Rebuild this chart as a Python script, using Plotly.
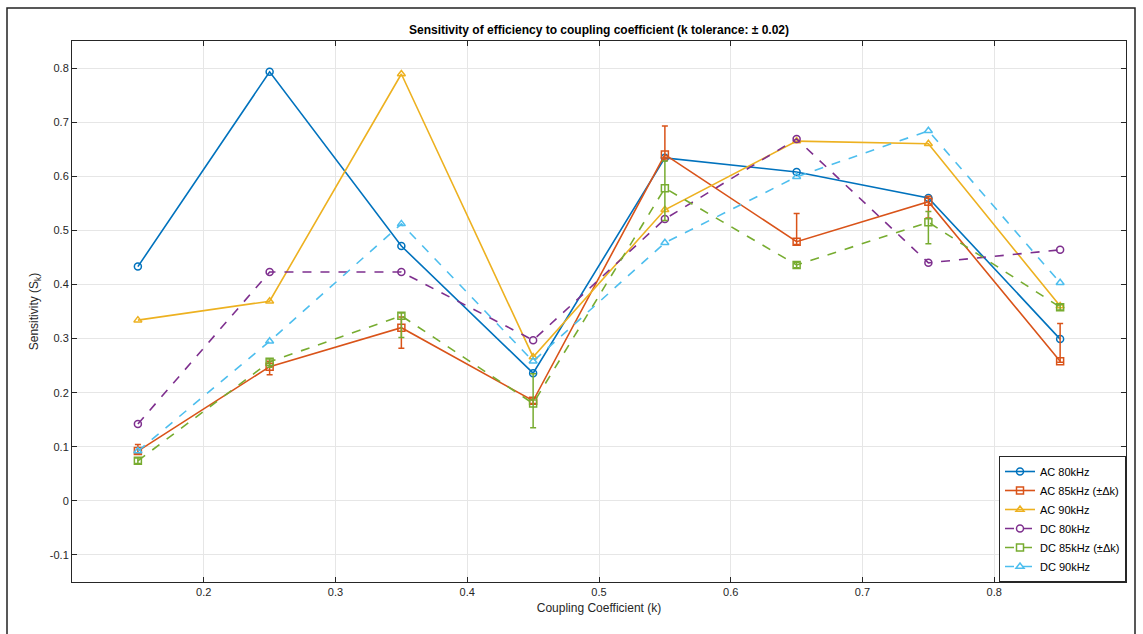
import plotly.graph_objects as go

k = [0.15, 0.25, 0.35, 0.45, 0.55, 0.65, 0.75, 0.85]

ac80 = [0.433, 0.793, 0.471, 0.236, 0.634, 0.608, 0.560, 0.299]
ac85 = [0.092, 0.248, 0.320, 0.185, 0.640, 0.479, 0.553, 0.258]
ac85_up = [0.012, 0.010, 0.020, 0.005, 0.053, 0.052, 0.010, 0.070]
ac85_dn = [0.005, 0.015, 0.038, 0.005, 0.010, 0.005, 0.030, 0.002]
ac90 = [0.334, 0.369, 0.789, 0.266, 0.538, 0.665, 0.660, 0.360]
dc80 = [0.142, 0.423, 0.423, 0.297, 0.521, 0.669, 0.440, 0.464]
dc85 = [0.074, 0.257, 0.342, 0.180, 0.578, 0.436, 0.515, 0.358]
dc85_up = [0.005, 0.005, 0.005, 0.055, 0.050, 0.005, 0.020, 0.005]
dc85_dn = [0.005, 0.010, 0.040, 0.045, 0.060, 0.005, 0.040, 0.005]
dc90 = [0.092, 0.295, 0.512, 0.258, 0.477, 0.599, 0.684, 0.403]

x_ticks = [0.2, 0.3, 0.4, 0.5, 0.6, 0.7, 0.8]
y_ticks = [-0.1, 0, 0.1, 0.2, 0.3, 0.4, 0.5, 0.6, 0.7, 0.8]

C_BLUE = "#0072BD"
C_ORANGE = "#D95319"
C_YELLOW = "#EDB120"
C_PURPLE = "#7E2F8E"
C_GREEN = "#77AC30"
C_CYAN = "#4DBEEE"

FONT = "Liberation Sans, Arial, sans-serif"

fig = go.Figure()

def add(name, y, color, symbol, dash, err=None):
    kw = {}
    if err is not None:
        kw["error_y"] = dict(type="data", symmetric=False, array=err[0], arrayminus=err[1],
                             color=color, thickness=1.5, width=3)
    fig.add_trace(go.Scatter(
        x=k, y=y, name=name, mode="lines+markers",
        line=dict(color=color, width=1.6, dash=dash),
        marker=dict(symbol=symbol, size=7, color=color, line=dict(color=color, width=1.5)),
        **kw))

add("AC 80kHz", ac80, C_BLUE, "circle-open", "solid")
add("AC 85kHz (±Δk)", ac85, C_ORANGE, "square-open", "solid", (ac85_up, ac85_dn))
add("AC 90kHz", ac90, C_YELLOW, "triangle-up-open", "solid")
add("DC 80kHz", dc80, C_PURPLE, "circle-open", "dash")
add("DC 85kHz (±Δk)", dc85, C_GREEN, "square-open", "dash", (dc85_up, dc85_dn))
add("DC 90kHz", dc90, C_CYAN, "triangle-up-open", "dash")

axis_common = dict(
    showgrid=True, gridcolor="#E6E6E6", gridwidth=1,
    showline=True, linecolor="#262626", linewidth=1, mirror="ticks",
    ticks="inside", ticklen=5, tickcolor="#262626",
    zeroline=False,
    tickfont=dict(family=FONT, size=11, color="#262626"),
)

fig.update_xaxes(range=[0.1, 0.9], tickvals=x_ticks, ticktext=[f"{v:g}" for v in x_ticks],
                 title=dict(text="Coupling Coefficient (k)", standoff=6,
                            font=dict(family=FONT, size=12, color="#262626")),
                 **axis_common)
fig.update_yaxes(range=[-0.15, 0.85], tickvals=y_ticks, ticktext=[f"{v:g}" for v in y_ticks],
                 title=dict(text="Sensitivity (S<sub>k</sub>)", standoff=8,
                            font=dict(family=FONT, size=12, color="#262626")),
                 **axis_common)

fig.update_layout(
    width=1143, height=634,
    margin=dict(l=72, r=17, t=41, b=52),
    paper_bgcolor="white", plot_bgcolor="white",
    title=dict(text="<b>Sensitivity of efficiency to coupling coefficient (k tolerance: ± 0.02)</b>",
               x=0.5, xanchor="center", xref="paper", y=1 - 30 / 634, yanchor="middle",
               font=dict(family=FONT, size=12, color="#000000")),
    legend=dict(x=1, y=0, xanchor="right", yanchor="bottom",
                bgcolor="white", bordercolor="#262626", borderwidth=1,
                font=dict(family=FONT, size=11, color="#000000"),
                tracegroupgap=0, itemwidth=30),
    showlegend=True,
)

# outer figure frame
fig.add_shape(type="rect", xref="paper", yref="paper",
              x0=-65 / 1054, x1=1 + 9 / 1054, y0=-0.2, y1=1 + 33 / 541,
              line=dict(color="#222222", width=1.5), fillcolor="rgba(0,0,0,0)", layer="below")

fig.write_html("out.html")
